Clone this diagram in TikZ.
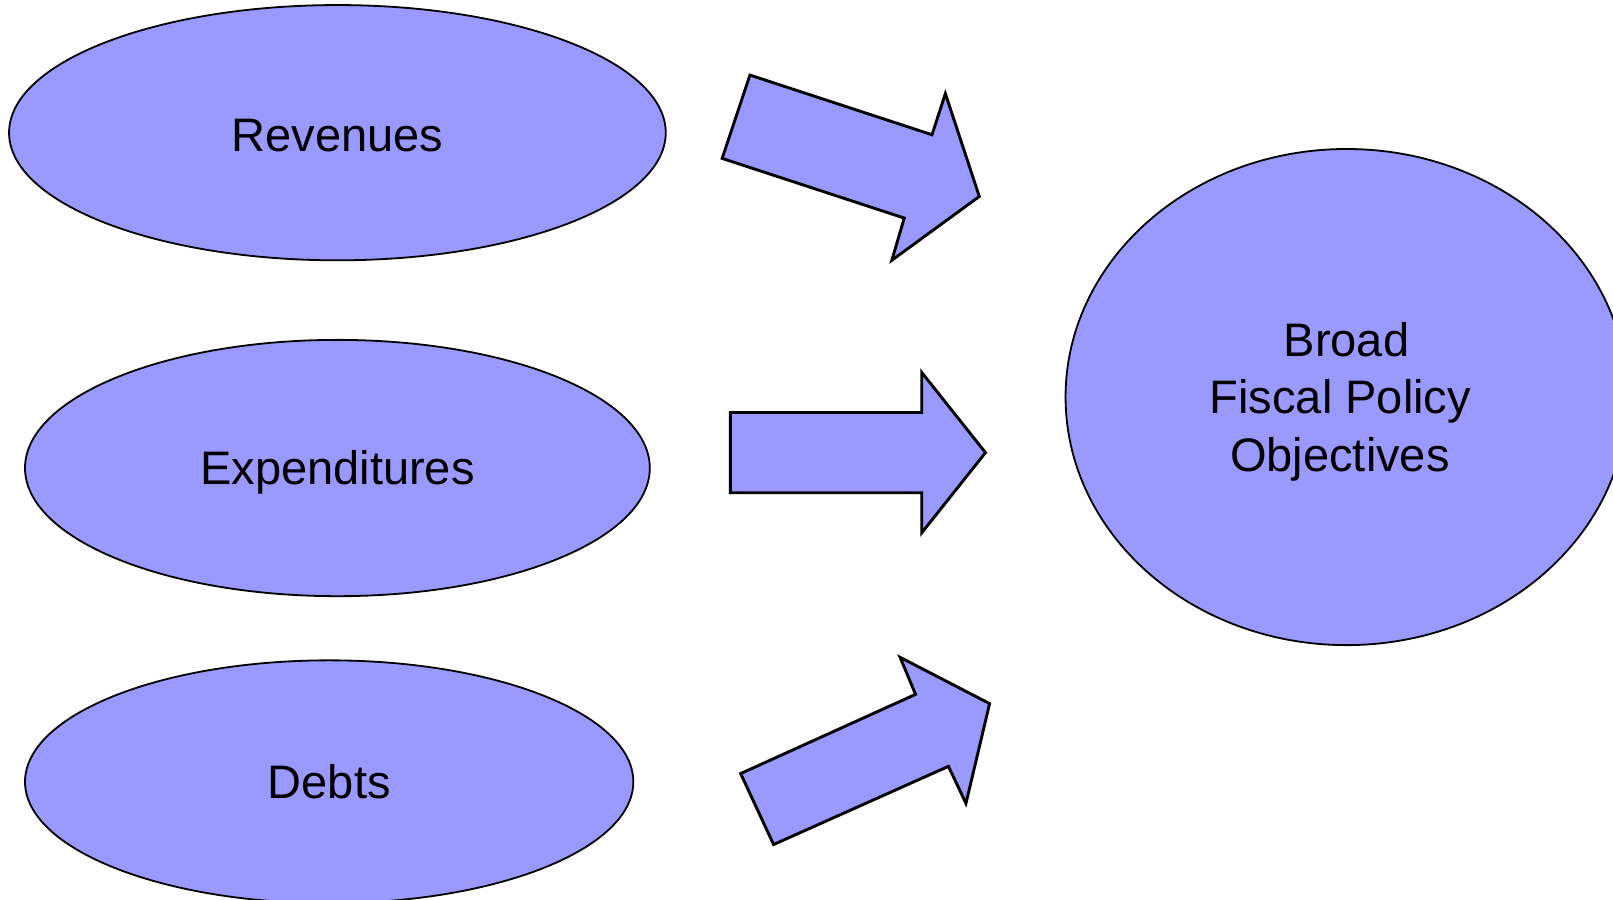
\documentclass[tikz,border=0pt]{standalone}
\usepackage{fontspec}
\setmainfont{Liberation Sans}
\usepackage{tikz}
\usetikzlibrary{shapes.geometric,positioning}
\definecolor{fiscalblue}{HTML}{9999FF}

\begin{document}
\begin{tikzpicture}[x=0.01cm, y=-0.01cm,
    blockarrow/.style={draw=black,fill=fiscalblue,line width=0.8pt,line join=miter}]
   \useasboundingbox (0,0) rectangle (1568,874);
   \begin{scope}[every node/.style={ellipse,draw=black,fill=fiscalblue,line width=0.5pt,inner sep=0pt,
       align=center,font=\fontsize{13}{15.9}\selectfont}]
    \node (rev) [minimum width=6.38cm, minimum height=2.48cm, text height=0.37cm] at (328,129) {Revenues};
    \node (exp) [minimum width=6.07cm, minimum height=2.49cm, text height=0.41cm] at (328,455) {Expenditures};
    \node (debt) [minimum width=5.91cm, minimum height=2.36cm] at (320,760) {Debts};
    \node (goal) [minimum width=5.46cm, minimum height=4.82cm, text height=1.54cm] at (1309,386)
      {Broad\\Fiscal Policy\hspace*{0.12cm}\mbox{}\\Objectives\hspace*{0.13cm}\mbox{}};
   \end{scope}
   % block arrows towards the objectives
   \draw[blockarrow] (729,73) -- (906,131) -- (919,91) -- (952,191) -- (867,253) -- (879,212) -- (702,154) -- cycle;
   \draw[blockarrow] (710,401) -- (896,401) -- (896,362) -- (958,440) -- (896,518) -- (896,479) -- (710,479) -- cycle;
   \draw[blockarrow] (720,752) -- (890,675) -- (875,639) -- (962,684) -- (939,781) -- (922,745) -- (752,821) -- cycle;
\end{tikzpicture}
\end{document}
